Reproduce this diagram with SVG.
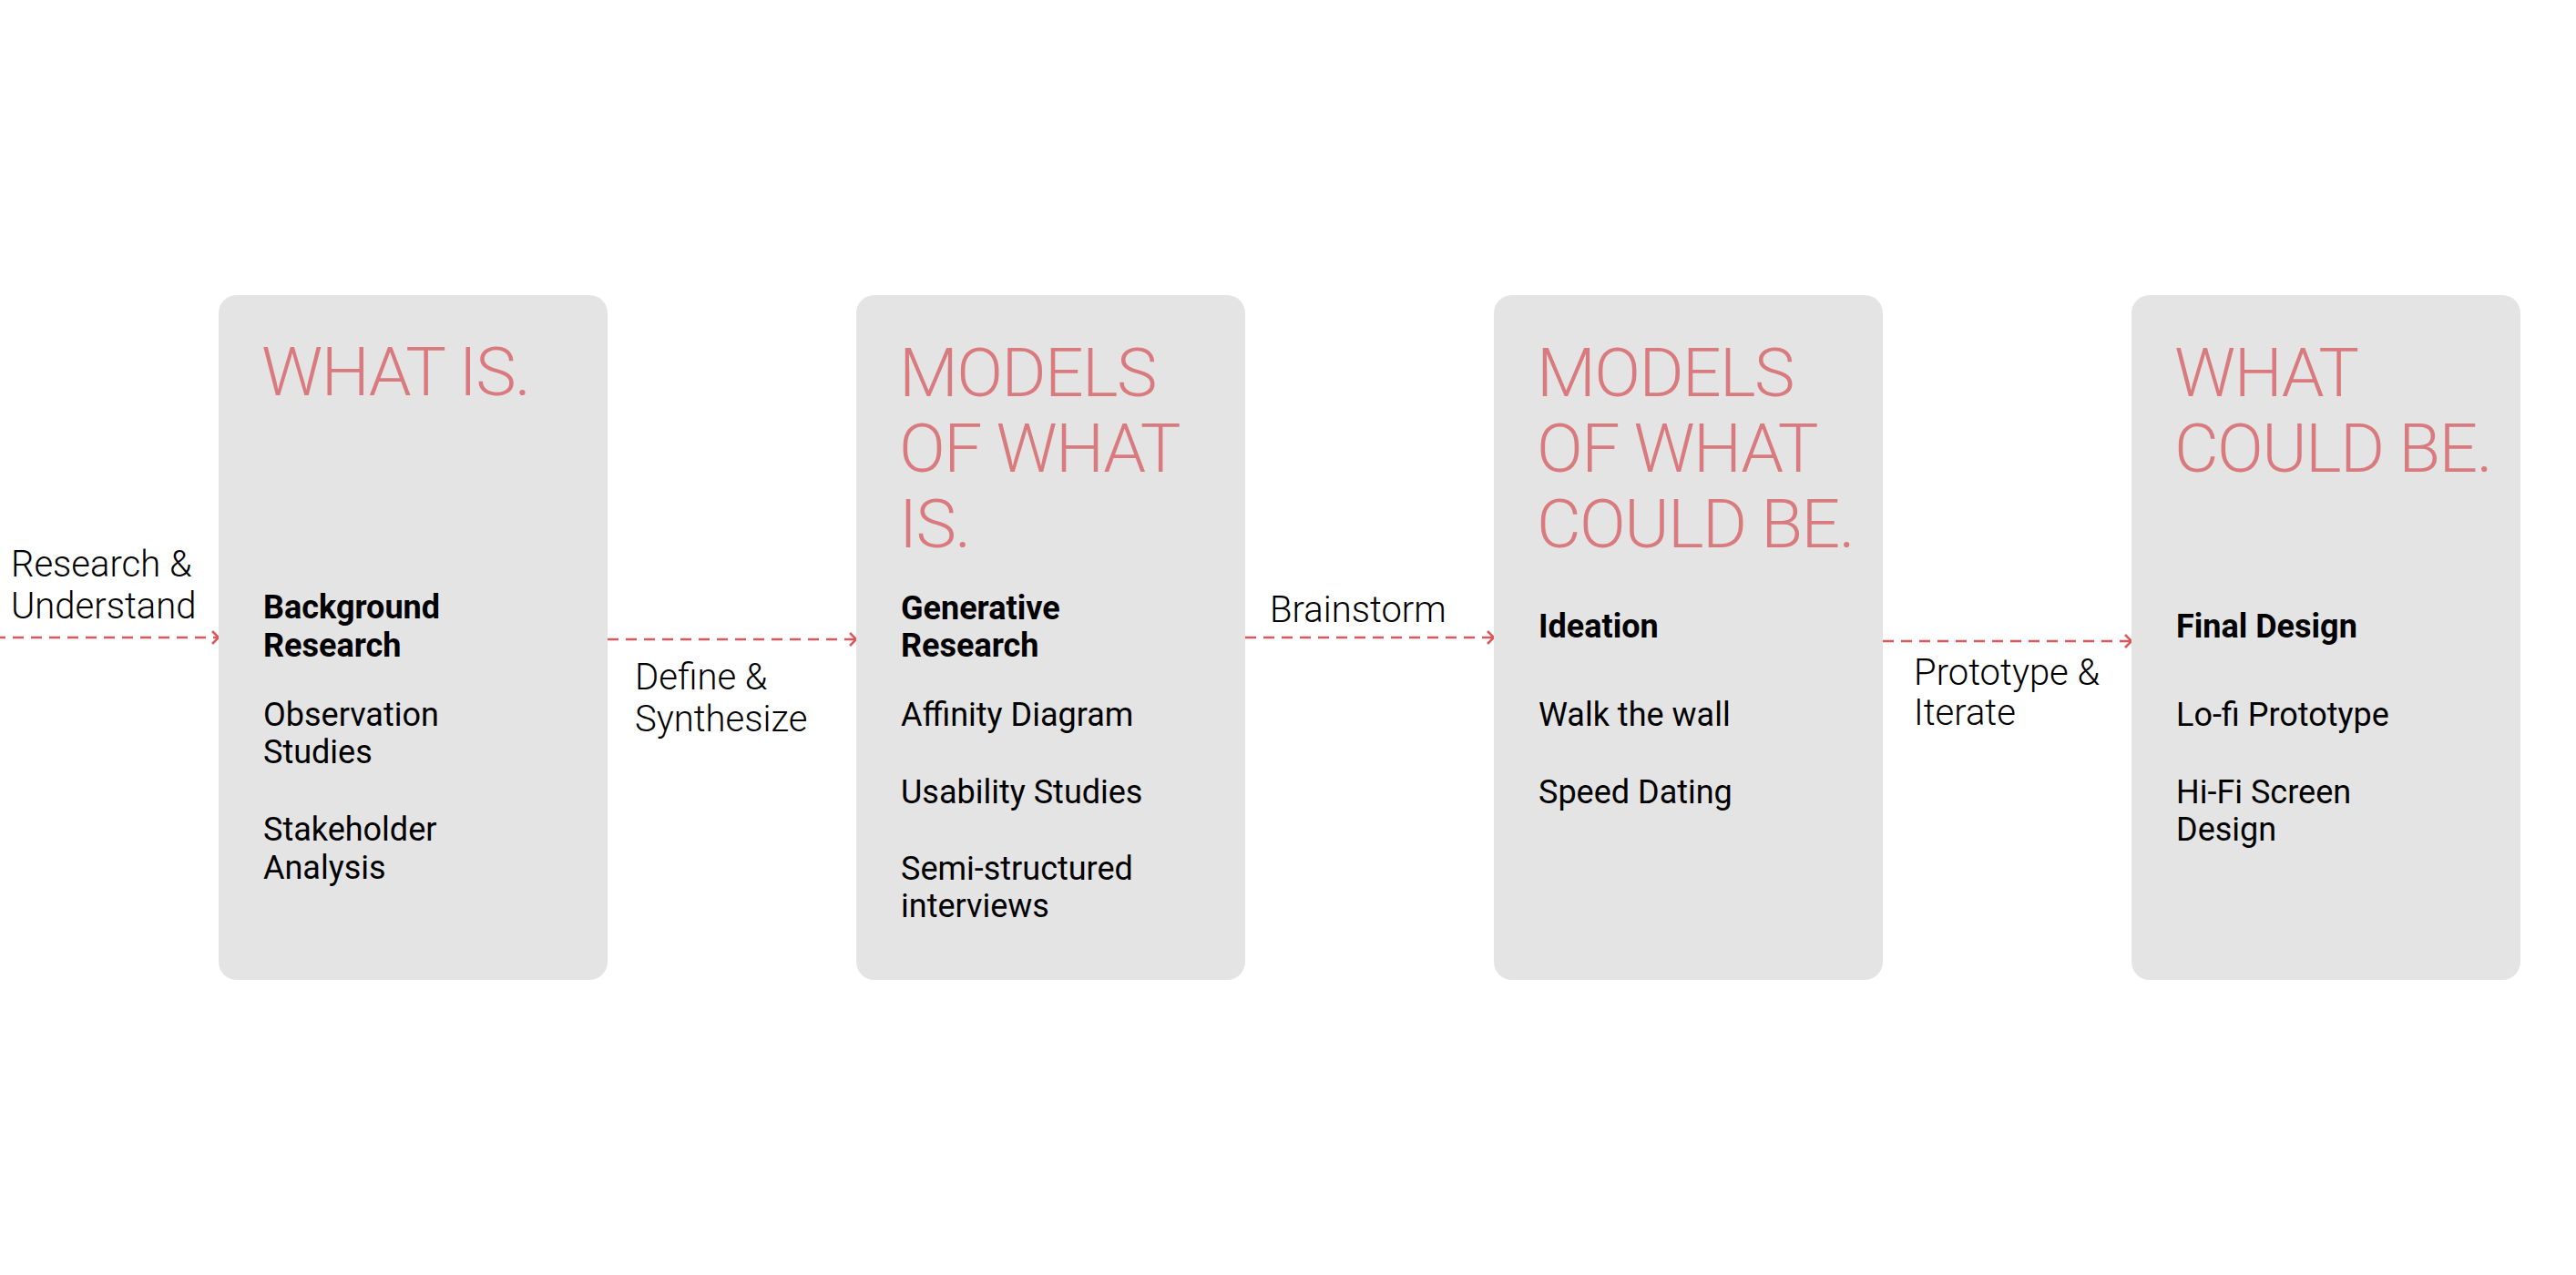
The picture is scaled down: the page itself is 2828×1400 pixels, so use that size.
<svg xmlns="http://www.w3.org/2000/svg" width="2828" height="1400" viewBox="0 0 2828 1400">
<style>
.box{fill:#E4E4E4}
.title{font-family:Roboto,"Liberation Sans",sans-serif;font-weight:300;font-size:75px;letter-spacing:-1.6px;fill:#D97A7E}
.body{font-family:Roboto,"Liberation Sans",sans-serif;font-weight:400;font-size:36px;fill:#000}
.bold{font-weight:700}
.label{font-family:Roboto,"Liberation Sans",sans-serif;font-weight:300;font-size:40px;fill:#000}
.conn{fill:none;stroke:#D9585E;stroke-width:2.5;stroke-dasharray:12 8}
.head{fill:none;stroke:#D9585E;stroke-width:2.5}
</style>
<defs>
<marker id="arr" markerUnits="userSpaceOnUse" markerWidth="12" markerHeight="18" refX="8" refY="8" orient="auto" viewBox="0 0 12 18">
<path class="head" d="M1,1 L8,8 L1,15"/>
</marker>
</defs>
<rect width="2828" height="1400" fill="#FFFFFF"/>
<g id="connectors">
<path class="conn" d="M0 700 H240" stroke-dashoffset="6" marker-end="url(#arr)"/>
<path class="conn" d="M667 702 H940" marker-end="url(#arr)"/>
<path class="conn" d="M1367 700 H1640" marker-end="url(#arr)"/>
<path class="conn" d="M2067 704 H2340" marker-end="url(#arr)"/>
<text class="label" x="12" y="633">Research &amp;</text>
<text class="label" x="12" y="679">Understand</text>
<text class="label" x="697" y="757">Define &amp;</text>
<text class="label" x="697" y="803">Synthesize</text>
<text class="label" x="1394" y="683">Brainstorm</text>
<text class="label" x="2101" y="752">Prototype &amp;</text>
<text class="label" x="2101" y="796">Iterate</text>
</g>
<g id="node-what-is">
<rect class="box" x="240" y="324" width="427" height="752" rx="20"/>
<text class="title" x="287" y="434">WHAT IS.</text>
<text class="body bold" x="289" y="679">Background</text>
<text class="body bold" x="289" y="721">Research</text>
<text class="body" x="289" y="797">Observation</text>
<text class="body" x="289" y="838">Studies</text>
<text class="body" x="289" y="923">Stakeholder</text>
<text class="body" x="289" y="965">Analysis</text>
</g>
<g id="node-models-what-is">
<rect class="box" x="940" y="324" width="427" height="752" rx="20"/>
<text class="title" x="987" y="435">MODELS</text>
<text class="title" x="987" y="518">OF WHAT</text>
<text class="title" x="987" y="601">IS.</text>
<text class="body bold" x="989" y="680">Generative</text>
<text class="body bold" x="989" y="721">Research</text>
<text class="body" x="989" y="797">Affinity Diagram</text>
<text class="body" x="989" y="882">Usability Studies</text>
<text class="body" x="989" y="966">Semi-structured</text>
<text class="body" x="989" y="1007">interviews</text>
</g>
<g id="node-models-could-be">
<rect class="box" x="1640" y="324" width="427" height="752" rx="20"/>
<text class="title" x="1687" y="435">MODELS</text>
<text class="title" x="1687" y="518">OF WHAT</text>
<text class="title" x="1687" y="601">COULD BE.</text>
<text class="body bold" x="1689" y="700">Ideation</text>
<text class="body" x="1689" y="797">Walk the wall</text>
<text class="body" x="1689" y="882">Speed Dating</text>
</g>
<g id="node-what-could-be">
<rect class="box" x="2340" y="324" width="427" height="752" rx="20"/>
<text class="title" x="2387" y="435">WHAT</text>
<text class="title" x="2387" y="518">COULD BE.</text>
<text class="body bold" x="2389" y="700">Final Design</text>
<text class="body" x="2389" y="797">Lo-fi Prototype</text>
<text class="body" x="2389" y="882">Hi-Fi Screen</text>
<text class="body" x="2389" y="923">Design</text>
</g>
</svg>
